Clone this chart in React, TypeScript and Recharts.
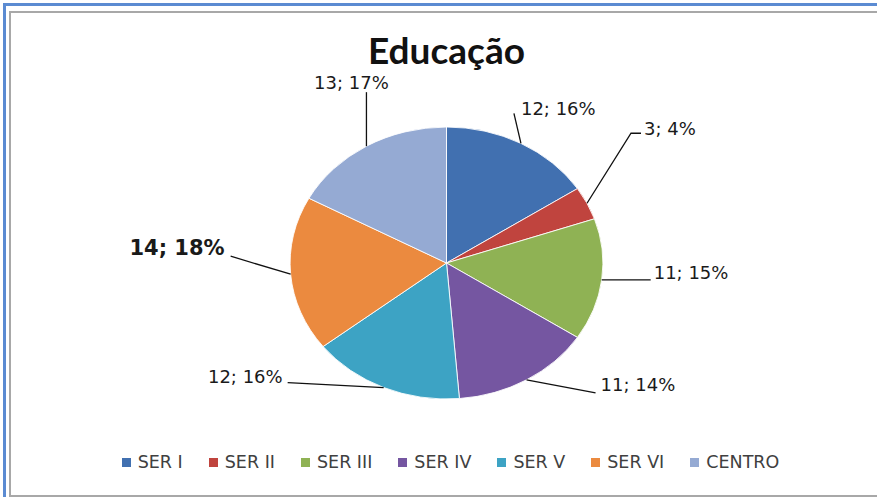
import { PieChart, Pie, Cell, Legend } from "recharts"

const categories = ["SER I", "SER II", "SER III", "SER IV", "SER V", "SER VI", "CENTRO"]
const values = [12, 3, 11, 11, 12, 14, 13]
const percentLabels = ["16%", "4%", "15%", "14%", "16%", "18%", "17%"]
const colors = ["#4170B0", "#C0443E", "#8FB254", "#7556A1", "#3DA3C4", "#EB8A3F", "#95AAD3"]

const data = categories.map((name, i) => ({ name, value: values[i] }))

// the pie in the picture is wider than tall
const STRETCH = 1.15
const CX = 446.5
const CY = 263
const R = 136

// label placement, screen px relative to the slice edge at mid angle
const leaderOffsets: number[][][] = [
  [[-7, -30]],
  [[44, -70], [54, -70]],
  [[49, 0]],
  [[69, 13]],
  [[-96, -5]],
  [[-60, -18]],
  [[0, -54]],
]
const textOffsets: [number, number, "start" | "middle" | "end"][] = [
  [0, -35, "start"],
  [57, -75, "start"],
  [52, -7, "start"],
  [74, 5, "start"],
  [-101, -11, "end"],
  [-66, -26, "end"],
  [-15, -64, "middle"],
]
const boldLabel = [false, false, false, false, false, true, false]

const RAD = Math.PI / 180

function renderLabel(p: any) {
  const i = p.index
  const ex = p.cx + p.outerRadius * STRETCH * Math.cos(-p.midAngle * RAD)
  const ey = p.cy + p.outerRadius * Math.sin(-p.midAngle * RAD)
  const pts = [[ex, ey], ...leaderOffsets[i].map(([dx, dy]) => [ex + dx, ey + dy])]
  const [tx, ty, anchor] = textOffsets[i]
  return (
    <g key={`lbl-${i}`}>
      <polyline points={pts.map((q) => q.join(",")).join(" ")} fill="none" stroke="#111" strokeWidth={1.3} />
      <text
        x={ex + tx}
        y={ey + ty}
        textAnchor={anchor}
        dominantBaseline="central"
        fill="#1a1a1a"
        fontFamily="DejaVu Sans, sans-serif"
        fontSize={boldLabel[i] ? 21 : 18}
        fontWeight={boldLabel[i] ? "bold" : "normal"}
      >
        {`${values[i]}; ${percentLabels[i]}`}
      </text>
    </g>
  )
}

function LegendContent(props: any) {
  const items = [...(props.payload || [])].sort(
    (a: any, b: any) => categories.indexOf(a.value) - categories.indexOf(b.value)
  )
  return (
    <div style={{ display: "flex", justifyContent: "center", paddingLeft: 24, fontFamily: "DejaVu Sans, sans-serif", fontSize: 17.5, color: "#404040" }}>
      {items.map((it: any, i: number) => (
        <div key={i} style={{ display: "flex", alignItems: "center", marginRight: i < items.length - 1 ? 26 : 0 }}>
          <span style={{ width: 9, height: 9, background: it.color, marginRight: 7, display: "inline-block" }} />
          <span>{it.value}</span>
        </div>
      ))}
    </div>
  )
}

export default function App() {
  return (
    <div style={{ position: "absolute", left: 0, top: 0, width: 877, height: 497, overflow: "hidden", background: "#fff" }}>
      <style>{`.recharts-pie .recharts-sector { transform: scaleX(${STRETCH}); transform-origin: ${CX}px ${CY}px; }`}</style>
      <div style={{ position: "absolute", left: 3, top: 3, width: 900, height: 520, borderTop: "3px solid #5B8BD2", borderLeft: "3px solid #5B8BD2" }} />
      <div style={{ position: "absolute", left: 9, top: 11, width: 900, height: 482, borderTop: "2px solid #A8A8A8", borderLeft: "2px solid #A8A8A8", borderBottom: "2px solid #A8A8A8" }} />
      <div style={{ position: "absolute", left: 0, top: 31, width: 893, textAlign: "center", fontFamily: "Lato, sans-serif", fontWeight: "bold", fontSize: 37, lineHeight: "37px", color: "#111" }}>
        Educação
      </div>
      <div style={{ position: "absolute", left: 0, top: 0 }}>
        <PieChart width={877} height={497} margin={{ top: 0, right: 0, bottom: 0, left: 0 }}>
          <Pie
            data={data}
            dataKey="value"
            nameKey="name"
            cx={CX}
            cy={CY}
            outerRadius={R}
            startAngle={90}
            endAngle={-270}
            stroke="#ffffff"
            strokeWidth={0.8}
            label={renderLabel}
            labelLine={false}
            isAnimationActive={false}
          >
            {data.map((d, i) => (
              <Cell key={d.name} fill={colors[i]} />
            ))}
          </Pie>
          <Legend content={<LegendContent />} itemSorter={null} wrapperStyle={{ top: 452, left: 0, width: 877 }} />
        </PieChart>
      </div>
    </div>
  )
}
